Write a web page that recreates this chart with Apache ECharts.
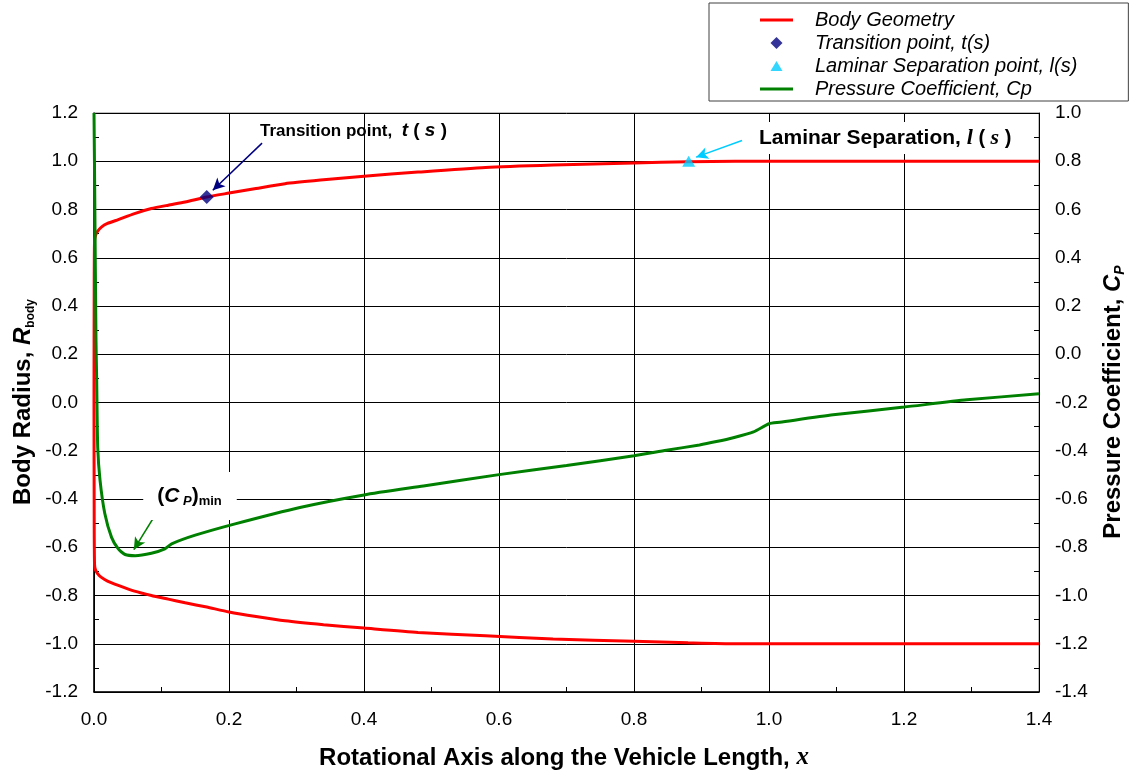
<!DOCTYPE html>
<html>
<head>
<meta charset="utf-8">
<script src="https://cdn.jsdelivr.net/npm/echarts@6.0.0/dist/echarts.min.js"></script>
<style>
html,body{margin:0;padding:0;background:#fff;}
#chart{width:1134px;height:775px;}
</style>
</head>
<body>
<div id="chart"></div>
<script>
// ---- data ----
var bodyUpperX = [1.4, 1.3, 1.2, 1.1, 1.0, 0.95, 0.88, 0.8, 0.68, 0.58, 0.48, 0.4, 0.34, 0.283, 0.24, 0.2, 0.167, 0.135, 0.11, 0.085, 0.06, 0.036, 0.02, 0.011, 0.005, 0.002, 0.0008, 0.0003, 0];
var bodyUpperR = [1.0, 1.0, 1.0, 1.0, 1.0, 1.0, 0.998, 0.993, 0.984, 0.974, 0.955, 0.938, 0.923, 0.907, 0.887, 0.868, 0.852, 0.831, 0.818, 0.804, 0.783, 0.758, 0.742, 0.727, 0.708, 0.69, 0.67, 0.5, 0];
var bodyLowerX = [0, 0.0003, 0.0008, 0.002, 0.005, 0.011, 0.02, 0.036, 0.06, 0.085, 0.11, 0.135, 0.167, 0.2, 0.24, 0.283, 0.34, 0.4, 0.48, 0.58, 0.68, 0.8, 0.88, 0.95, 1.0, 1.1, 1.2, 1.3, 1.4];
var bodyLowerR = [0, -0.5, -0.672, -0.692, -0.708, -0.725, -0.74, -0.758, -0.782, -0.8, -0.815, -0.83, -0.848, -0.868, -0.887, -0.905, -0.921, -0.935, -0.953, -0.967, -0.98, -0.99, -0.996, -1.0, -1.0, -1.0, -1.0, -1.0, -1.0];

var cpX = [0, 0.001, 0.002, 0.003, 0.004, 0.0055, 0.009, 0.016, 0.026, 0.036, 0.046, 0.061, 0.085, 0.105, 0.115, 0.15, 0.209, 0.305, 0.4, 0.488, 0.6, 0.7, 0.8, 0.848, 0.897, 0.922, 0.947, 0.977, 1.0, 1.016, 1.095, 1.2, 1.293, 1.4];
var cpV = [1.0, 0.7, 0.35, 0.05, -0.11, -0.385, -0.524, -0.66, -0.759, -0.807, -0.83, -0.835, -0.825, -0.807, -0.786, -0.75, -0.703, -0.635, -0.583, -0.546, -0.499, -0.461, -0.421, -0.398, -0.376, -0.362, -0.346, -0.322, -0.288, -0.282, -0.251, -0.219, -0.189, -0.164];

var transitionPoint = [0.167, 0.852];
var laminarPoint = [0.881, 1.0];

// annotation arrow anchors (data space)
var transitionArrow = [[0.249, 1.075], [0.176, 0.88]];
var laminarArrow = [[0.96, 1.086], [0.892, 1.017]];
var cpMinArrow = [[0.093, -0.656], [0.059, -0.81]];

var seriesNames = ['Body Geometry', 'Transition point, t(s)', 'Laminar Separation point, l(s)', 'Pressure Coefficient, Cp'];

// ---- build ----
function zip(a, b) { var r = []; for (var i = 0; i < a.length; i++) r.push([a[i], b[i]]); return r; }
var bodyData = zip(bodyUpperX, bodyUpperR).concat(zip(bodyLowerX, bodyLowerR));
var cpData = zip(cpX, cpV);

var FONT = '"Liberation Sans", Arial, sans-serif';
var SERIF = '"Liberation Serif", "Times New Roman", serif';
var fmt = function (v) { if (Math.abs(v) < 1e-9) v = 0; return v.toFixed(1); };

var LINE_ICON = 'path://M0,0H33V3H0Z';
var DIAMOND_ICON = 'path://M6,0L12,6L6,12L0,6Z';
var TRIANGLE_ICON = 'path://M7.2,1L13.2,11L1.2,11Z M0,0L0,0 M14.4,12L14.4,12';

function arrowLine(pts, color) {
  return {
    silent: true,
    animation: false,
    symbol: ['none', 'arrow'],
    symbolSize: [9, 12],
    label: { show: false },
    emphasis: { disabled: true },
    lineStyle: { color: color, width: 1.5, type: 'solid' },
    data: [[{ coord: pts[0] }, { coord: pts[1] }]]
  };
}

var chart = echarts.init(document.getElementById('chart'), null, { renderer: 'canvas' });
chart.setOption({
  animation: false,
  backgroundColor: '#fff',
  textStyle: { fontFamily: FONT },
  grid: { left: 94, right: 95, top: 113, bottom: 83, show: true, borderColor: '#808080', borderWidth: 1, backgroundColor: 'transparent' },
  legend: {
    orient: 'vertical',
    left: 709, top: 3,
    padding: [7, 51, 2, 51],
    itemWidth: 33, itemHeight: 12, itemGap: 3,
    symbolKeepAspect: true,
    borderColor: '#404040', borderWidth: 1,
    backgroundColor: '#fff',
    data: [
      { name: seriesNames[0], icon: LINE_ICON },
      { name: seriesNames[1], icon: DIAMOND_ICON },
      { name: seriesNames[2], icon: TRIANGLE_ICON },
      { name: seriesNames[3], icon: LINE_ICON }
    ],
    selectedMode: false,
    textStyle: { fontFamily: FONT, fontSize: 20, lineHeight: 20, fontStyle: 'italic', color: '#000', padding: [0, 0, 0, 17] }
  },
  xAxis: {
    type: 'value', min: 0, max: 1.4, interval: 0.2,
    axisLine: { show: true, onZero: false, lineStyle: { color: '#000', width: 1.5 } },
    axisTick: { show: true, inside: true, length: 5, lineStyle: { color: '#000' } },
    minorTick: { show: true, splitNumber: 2, length: 5, lineStyle: { color: '#000' } },
    axisLabel: { formatter: fmt, fontSize: 19, color: '#000', margin: 18, fontFamily: FONT },
    splitLine: { show: true, lineStyle: { color: '#000', width: 1 } }
  },
  yAxis: [{
    type: 'value', min: -1.2, max: 1.2, interval: 0.2, position: 'left',
    axisLine: { show: true, onZero: false, lineStyle: { color: '#000', width: 1.5 } },
    axisTick: { show: true, inside: true, length: 5, lineStyle: { color: '#000' } },
    minorTick: { show: true, splitNumber: 2, length: 5, lineStyle: { color: '#000' } },
    axisLabel: { formatter: fmt, fontSize: 19, color: '#000', margin: 16, fontFamily: FONT },
    splitLine: { show: true, lineStyle: { color: '#000', width: 1 } }
  }, {
    type: 'value', min: -1.4, max: 1.0, interval: 0.2, position: 'right',
    axisLine: { show: true, onZero: false, lineStyle: { color: '#000', width: 1 } },
    axisTick: { show: true, inside: true, length: 5, lineStyle: { color: '#000' } },
    minorTick: { show: true, splitNumber: 2, length: 5, lineStyle: { color: '#000' } },
    axisLabel: { formatter: fmt, fontSize: 19, color: '#000', margin: 16, fontFamily: FONT },
    splitLine: { show: false }
  }],
  series: [{
    name: seriesNames[0], type: 'line', data: bodyData, yAxisIndex: 0,
    symbol: 'none', smooth: 0.2, z: 3,
    lineStyle: { color: '#ff0000', width: 3 }, itemStyle: { color: '#ff0000' }
  }, {
    name: seriesNames[1], type: 'scatter', data: [transitionPoint], yAxisIndex: 0,
    symbol: 'diamond', symbolSize: 14, z: 5,
    itemStyle: { color: '#000080' },
    markLine: arrowLine(transitionArrow, '#000080')
  }, {
    name: seriesNames[2], type: 'scatter', data: [laminarPoint], yAxisIndex: 0,
    symbol: 'triangle', symbolSize: [13, 11], z: 5,
    itemStyle: { color: '#00ccff' },
    markLine: arrowLine(laminarArrow, '#00ccff')
  }, {
    name: seriesNames[3], type: 'line', data: cpData, yAxisIndex: 1,
    symbol: 'none', smooth: 0.2, z: 4,
    lineStyle: { color: '#008000', width: 3 }, itemStyle: { color: '#008000' },
    markLine: arrowLine(cpMinArrow, '#008000')
  }],
  graphic: [{
    type: 'text', x: 23, y: 402, rotation: Math.PI / 2, z: 10,
    style: {
      text: '{a|Body Radius, }{i|R}{s|body}',
      align: 'center', verticalAlign: 'middle',
      rich: {
        a: { fontFamily: FONT, fontWeight: 'bold', fontSize: 24, fill: '#000', lineHeight: 28 },
        i: { fontFamily: FONT, fontWeight: 'bold', fontStyle: 'italic', fontSize: 24, fill: '#000', lineHeight: 28 },
        s: { fontFamily: FONT, fontWeight: 'bold', fontSize: 12, fill: '#000', verticalAlign: 'bottom', lineHeight: 22 }
      }
    }
  }, {
    type: 'text', x: 1113, y: 402, rotation: Math.PI / 2, z: 10,
    style: {
      text: '{a|Pressure Coefficient, }{i|C}{s|P}',
      align: 'center', verticalAlign: 'middle',
      rich: {
        a: { fontFamily: FONT, fontWeight: 'bold', fontSize: 24, fill: '#000', lineHeight: 28 },
        i: { fontFamily: FONT, fontWeight: 'bold', fontStyle: 'italic', fontSize: 24, fill: '#000', lineHeight: 28 },
        s: { fontFamily: FONT, fontWeight: 'bold', fontStyle: 'italic', fontSize: 14, fill: '#000', verticalAlign: 'bottom', lineHeight: 22 }
      }
    }
  }, {
    type: 'text', x: 564, y: 758, z: 10,
    style: {
      text: '{a|Rotational Axis along the Vehicle Length, }{i|x}',
      align: 'center', verticalAlign: 'middle',
      rich: {
        a: { fontFamily: FONT, fontWeight: 'bold', fontSize: 24, fill: '#000' },
        i: { fontFamily: SERIF, fontWeight: 'bold', fontStyle: 'italic', fontSize: 25, fill: '#000' }
      }
    }
  }, {
    type: 'text', x: 260, y: 131, z: 10,
    style: {
      text: '{a|Transition point,  }{i|t}{p| ( }{i|s}{p| )}',
      align: 'left', verticalAlign: 'middle',
      rich: {
        a: { fontFamily: FONT, fontWeight: 'bold', fontSize: 17, fill: '#000' },
        p: { fontFamily: FONT, fontWeight: 'bold', fontSize: 19, fill: '#000' },
        i: { fontFamily: FONT, fontWeight: 'bold', fontStyle: 'italic', fontSize: 19, fill: '#000' }
      }
    }
  }, {
    type: 'text', x: 757, y: 138, z: 10,
    style: {
      text: '{a|Laminar Separation, }{i|l}{p| ( }{i|s}{p| )}',
      align: 'left', verticalAlign: 'middle',
      backgroundColor: '#fff', padding: [5, 4, 5, 2],
      rich: {
        a: { fontFamily: FONT, fontWeight: 'bold', fontSize: 21, fill: '#000' },
        p: { fontFamily: FONT, fontWeight: 'bold', fontSize: 20, fill: '#000' },
        i: { fontFamily: SERIF, fontWeight: 'bold', fontStyle: 'italic', fontSize: 22, fill: '#000' }
      }
    }
  }, {
    type: 'text', x: 190, y: 496, z: 10,
    style: {
      text: '{a|(}{i|C}{s| P}{a|)}{m|min}',
      align: 'center', verticalAlign: 'middle',
      backgroundColor: '#fff', padding: [12, 15, 12, 14],
      rich: {
        a: { fontFamily: FONT, fontWeight: 'bold', fontSize: 21, fill: '#000', lineHeight: 24 },
        i: { fontFamily: FONT, fontWeight: 'bold', fontStyle: 'italic', fontSize: 21, fill: '#000', lineHeight: 24 },
        s: { fontFamily: FONT, fontWeight: 'bold', fontStyle: 'italic', fontSize: 13, fill: '#000', verticalAlign: 'bottom', lineHeight: 18 },
        m: { fontFamily: FONT, fontWeight: 'bold', fontSize: 13, fill: '#000', verticalAlign: 'bottom', lineHeight: 18 }
      }
    }
  }]
});
</script>
</body>
</html>
